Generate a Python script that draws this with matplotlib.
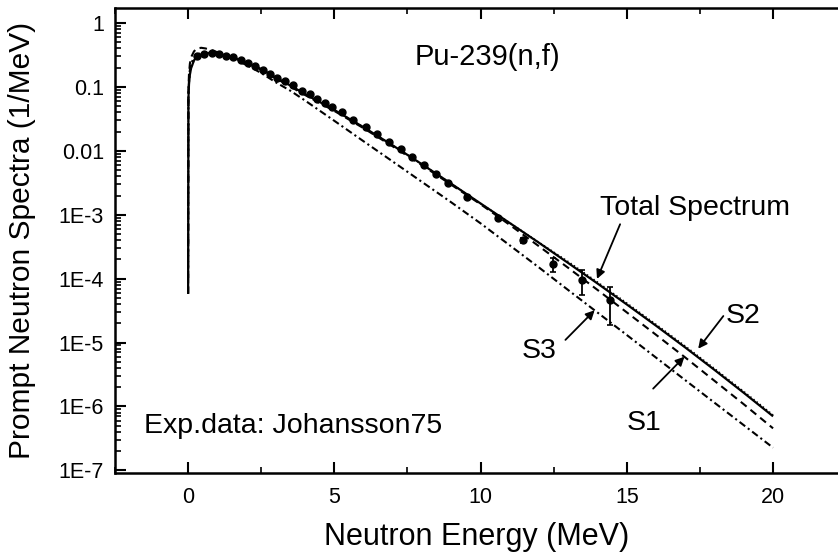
import matplotlib
matplotlib.use("Agg")
import matplotlib.pyplot as plt
from matplotlib.ticker import MultipleLocator, LogLocator, NullFormatter

plt.rcParams['font.family'] = ['Liberation Sans', 'DejaVu Sans']

# ---- data ----
energy = [0.0, 0.01, 0.03, 0.06, 0.1, 0.2, 0.3, 0.5, 0.75, 1.0, 1.5, 2.0, 2.5, 3.0, 3.5,
          4, 5, 6, 7, 8, 9, 10, 11, 12, 13, 14, 15, 16, 17, 18, 19, 20]
total = [5.8e-5, 0.065, 0.11, 0.155, 0.195, 0.26, 0.30, 0.33, 0.34, 0.33, 0.29, 0.24, 0.19, 0.140, 0.105,
         0.0774, 0.0436, 0.0234, 0.01213, 6.15e-3, 3.05e-3, 1.50e-3, 7.40e-4, 3.63e-4, 1.75e-4,
         8.38e-5, 3.94e-5, 1.83e-5, 8.35e-6, 3.72e-6, 1.63e-6, 7.00e-7]
s2 = [5.8e-5, 0.065, 0.11, 0.155, 0.195, 0.26, 0.30, 0.33, 0.34, 0.33, 0.29, 0.24, 0.19, 0.140, 0.105,
      0.0774, 0.0436, 0.0234, 0.01213, 6.15e-3, 3.05e-3, 1.50e-3, 7.45e-4, 3.68e-4, 1.84e-4,
      8.8e-5, 4.14e-5, 1.92e-5, 8.77e-6, 3.9e-6, 1.71e-6, 7.35e-7]
s1_energy = [0.0, 0.01, 0.03, 0.06, 0.1, 0.2, 0.3, 0.45, 0.6, 0.8, 1.0, 1.5, 2.0, 2.5, 3.0,
             4, 5, 6, 7, 8, 9, 10, 11, 12, 13, 14, 15, 16, 17, 18, 19, 20]
s1 = [5.8e-5, 0.09, 0.16, 0.23, 0.29, 0.36, 0.40, 0.41, 0.40, 0.375, 0.35, 0.295, 0.24, 0.185, 0.137,
      0.0747, 0.0421, 0.0226, 0.0117, 5.94e-3, 2.94e-3, 1.46e-3, 6.92e-4, 3.20e-4, 1.47e-4,
      6.64e-5, 2.96e-5, 1.32e-5, 5.82e-6, 2.51e-6, 1.08e-6, 4.54e-7]
s3 = [5.8e-5, 0.077, 0.13, 0.185, 0.23, 0.29, 0.32, 0.345, 0.345, 0.33, 0.28, 0.22, 0.165, 0.118, 0.087,
      0.0612, 0.0295, 0.0141, 6.78e-3, 3.25e-3, 1.56e-3, 7.33e-4, 3.31e-4, 1.49e-4, 6.6e-5,
      2.94e-5, 1.31e-5, 5.8e-6, 2.57e-6, 1.14e-6, 5.08e-7, 2.26e-7]

# Johansson75 experimental points
exp_energy = [0.3, 0.55, 0.8, 1.05, 1.3, 1.55, 1.8, 2.05, 2.3, 2.55, 2.8, 3.05, 3.32,
              3.60, 3.89, 4.17, 4.42, 4.68, 4.93, 5.25, 5.65, 6.07, 6.47, 6.87, 7.27, 7.67,
              8.07, 8.47, 8.87, 9.53, 10.58]
exp_value = [0.30, 0.33, 0.335, 0.325, 0.31, 0.29, 0.26, 0.235, 0.21, 0.185, 0.16, 0.137, 0.122,
             0.107, 0.0863, 0.0766, 0.0640, 0.0554, 0.0480, 0.0400, 0.0303, 0.0233, 0.0183,
             0.0139, 0.0106, 7.9e-3, 6.0e-3, 4.34e-3, 3.10e-3, 1.91e-3, 8.8e-4]
err_energy = [11.46, 12.49, 13.46, 14.43]
err_value = [4.0e-4, 1.68e-4, 9.5e-5, 4.6e-5]
err_sigma = [0.4e-4, 0.4e-4, 0.4e-4, 2.7e-5]

x_major = [0, 5, 10, 15, 20]
y_ticks = [1, 0.1, 0.01, 1e-3, 1e-4, 1e-5, 1e-6, 1e-7]
y_labels = ['1', '0.1', '0.01', '1E-3', '1E-4', '1E-5', '1E-6', '1E-7']

# ---- figure ----
fig = plt.figure(figsize=(8.38, 5.56), dpi=100)
ax = fig.add_axes([115 / 838, 83 / 556, 723 / 838, 465 / 556])

ax.plot(energy, total, color='black', lw=1.6, solid_capstyle='butt')
ax.plot(energy, s2, color='black', lw=1.2, linestyle=(0, (0.8, 1.6)))
ax.plot(s1_energy, s1, color='black', lw=1.5, linestyle=(0, (3.6, 2.4)))
ax.plot(energy, s3, color='black', lw=1.5, linestyle=(0, (3.4, 1.6, 1.0, 1.6)))

ax.plot(exp_energy, exp_value, 'o', color='black', ms=5, mec='black')
ax.errorbar(err_energy, err_value, yerr=err_sigma, fmt='o', color='black', ms=5,
            elinewidth=1.3, capsize=2, capthick=1.2)

ax.set_yscale('log')
ax.set_xlim(-2.5, 22.22)
ax.set_ylim(9.08e-8, 1.72)

ax.set_xticks(x_major)
ax.xaxis.set_minor_locator(MultipleLocator(2.5))
ax.set_yticks(y_ticks)
ax.set_yticklabels(y_labels)
ax.yaxis.set_minor_locator(LogLocator(base=10, subs=range(2, 10), numticks=20))
ax.yaxis.set_minor_formatter(NullFormatter())

ax.tick_params(axis='both', which='major', direction='in', labelsize=15.5, width=1.5, length=8)
ax.tick_params(axis='both', which='minor', direction='in', width=1.2, length=4)
ax.tick_params(axis='x', which='both', top=True, pad=10)
ax.tick_params(axis='y', which='both', right=False, pad=8)

for side in ['left', 'bottom', 'top']:
    ax.spines[side].set_linewidth(1.8)
ax.spines['right'].set_visible(False)

ax.set_xlabel('Neutron Energy (MeV)', fontsize=22, labelpad=10)
ax.set_ylabel('Prompt Neutron Spectra (1/MeV)', fontsize=21.5, labelpad=16)

ax.text(0.415, 0.877, 'Pu-239(n,f)', transform=ax.transAxes, fontsize=21, va='baseline', ha='left')
ax.text(0.04, 0.086, 'Exp.data: Johansson75', transform=ax.transAxes, fontsize=20.5,
        va='baseline', ha='left')

arrow = dict(arrowstyle='-|>', color='black', lw=1.3, mutation_scale=13, shrinkA=0, shrinkB=0)
ax.text(0.671, 0.555, 'Total Spectrum', transform=ax.transAxes, fontsize=20.5,
        va='baseline', ha='left')
ax.annotate('', xy=(13.98, 9.9e-5), xytext=(14.77, 7.1e-4), arrowprops=arrow)
ax.text(0.844, 0.323, 'S2', transform=ax.transAxes, fontsize=20.5, va='baseline', ha='left')
ax.annotate('', xy=(17.44, 8.0e-6), xytext=(18.3, 2.6e-5), arrowprops=arrow)
ax.text(0.563, 0.248, 'S3', transform=ax.transAxes, fontsize=20.5, va='baseline', ha='left')
ax.annotate('', xy=(13.9, 3.2e-5), xytext=(12.9, 1.1e-5), arrowprops=arrow)
ax.text(0.708, 0.0925, 'S1', transform=ax.transAxes, fontsize=20.5, va='baseline', ha='left')
ax.annotate('', xy=(16.97, 6.0e-6), xytext=(15.9, 1.9e-6), arrowprops=arrow)

fig.savefig('out.png', dpi=100)
